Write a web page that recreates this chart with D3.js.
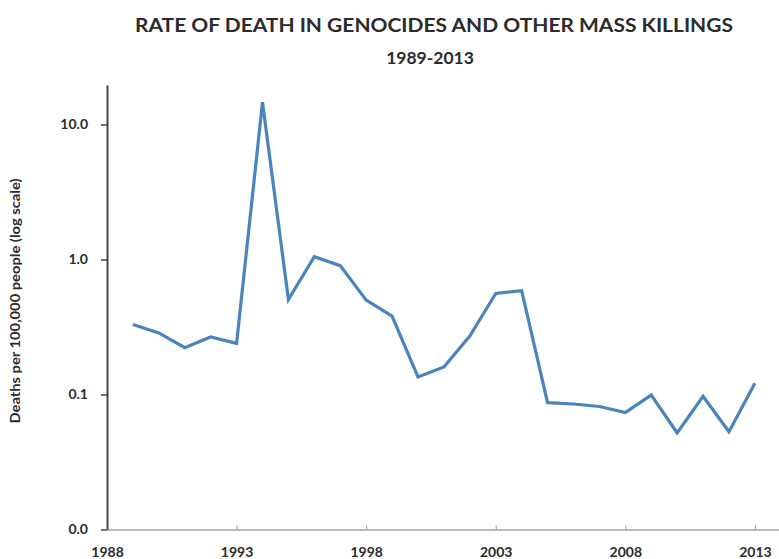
<!DOCTYPE html>
<html><head><meta charset="utf-8">
<script src="https://cdn.jsdelivr.net/npm/d3@7"></script>
<style>body{margin:0;background:#fff;} svg{display:block;}</style>
</head><body>
<svg id="c" width="779" height="559"></svg>
<script>
const years = [1989,1990,1991,1992,1993,1994,1995,1996,1997,1998,1999,2000,2001,2002,2003,2004,2005,2006,2007,2008,2009,2010,2011,2012,2013];
const rates = [0.33,0.286,0.222,0.267,0.239,14.6,0.505,1.047,0.90,0.50,0.381,0.135,0.160,0.271,0.56,0.587,0.087,0.085,0.0815,0.0736,0.099,0.052,0.097,0.053,0.121];
const xTicks = [1988,1993,1998,2003,2008,2013];
const yTicks = [0.01,0.1,1,10];
const yTickLabels = ["0.0","0.1","1.0","10.0"];
const title = "RATE OF DEATH IN GENOCIDES AND OTHER MASS KILLINGS";
const subtitle = "1989-2013";
const yLabel = "Deaths per 100,000 people (log scale)";

const svg = d3.select("#c");
const font = "Lato, 'Open Sans', sans-serif";
const x = d3.scaleLinear().domain([1988, 2013.93]).range([107, 779]);
const y = d3.scaleLog().domain([0.01, 19.6]).range([529.5, 85]);

// title
svg.append("text").attr("x", 434).attr("y", 31.5).attr("text-anchor","middle")
  .attr("font-family", font).attr("font-weight", 700).attr("font-size", 19.5)
  .attr("fill", "#2b2b2b").attr("textLength", 598).attr("lengthAdjust","spacingAndGlyphs").text(title);
svg.append("text").attr("x", 430).attr("y", 64).attr("text-anchor","middle")
  .attr("font-family", font).attr("font-weight", 700).attr("font-size", 17.5)
  .attr("fill", "#2b2b2b").text(subtitle);

// x axis
const xAxis = d3.axisBottom(x).tickValues(xTicks).tickFormat(d3.format("d")).tickSizeInner(-4).tickSizeOuter(0).tickPadding(18);
const gx = svg.append("g").attr("transform", `translate(0,${y(0.01)})`).call(xAxis);
gx.select(".domain").attr("stroke", "#777").attr("stroke-width", 1);
gx.selectAll(".tick line").attr("stroke", "#999");
gx.selectAll(".tick text").attr("font-family", font).attr("font-weight", 700).attr("font-size", 14).attr("fill", "#2b2b2b");

// y axis
const yAxis = d3.axisLeft(y).tickValues(yTicks).tickFormat((d,i) => yTickLabels[i]).tickSizeInner(6).tickSizeOuter(0).tickPadding(13);
const gy = svg.append("g").attr("transform", `translate(${x(1988)},0)`).call(yAxis);
gy.select(".domain").attr("stroke", "#444").attr("stroke-width", 2);
gy.selectAll(".tick line").attr("stroke", "#444").attr("stroke-width", 1.5);
gy.selectAll(".tick text").attr("font-family", font).attr("font-weight", 700).attr("font-size", 14).attr("fill", "#2b2b2b");

// y label
svg.append("text").attr("transform", `translate(20,301) rotate(-90)`).attr("text-anchor","middle")
  .attr("font-family", font).attr("font-weight", 700).attr("font-size", 13)
  .attr("fill", "#2b2b2b").attr("textLength", 245).attr("lengthAdjust","spacingAndGlyphs").text(yLabel);

// line
const line = d3.line().x((d,i) => x(years[i])).y(d => y(d));
svg.append("path").datum(rates).attr("d", line).attr("fill","none")
  .attr("stroke", "#4a84bf").attr("stroke-width", 3.2).attr("stroke-linejoin","miter");
</script>
</body></html>
